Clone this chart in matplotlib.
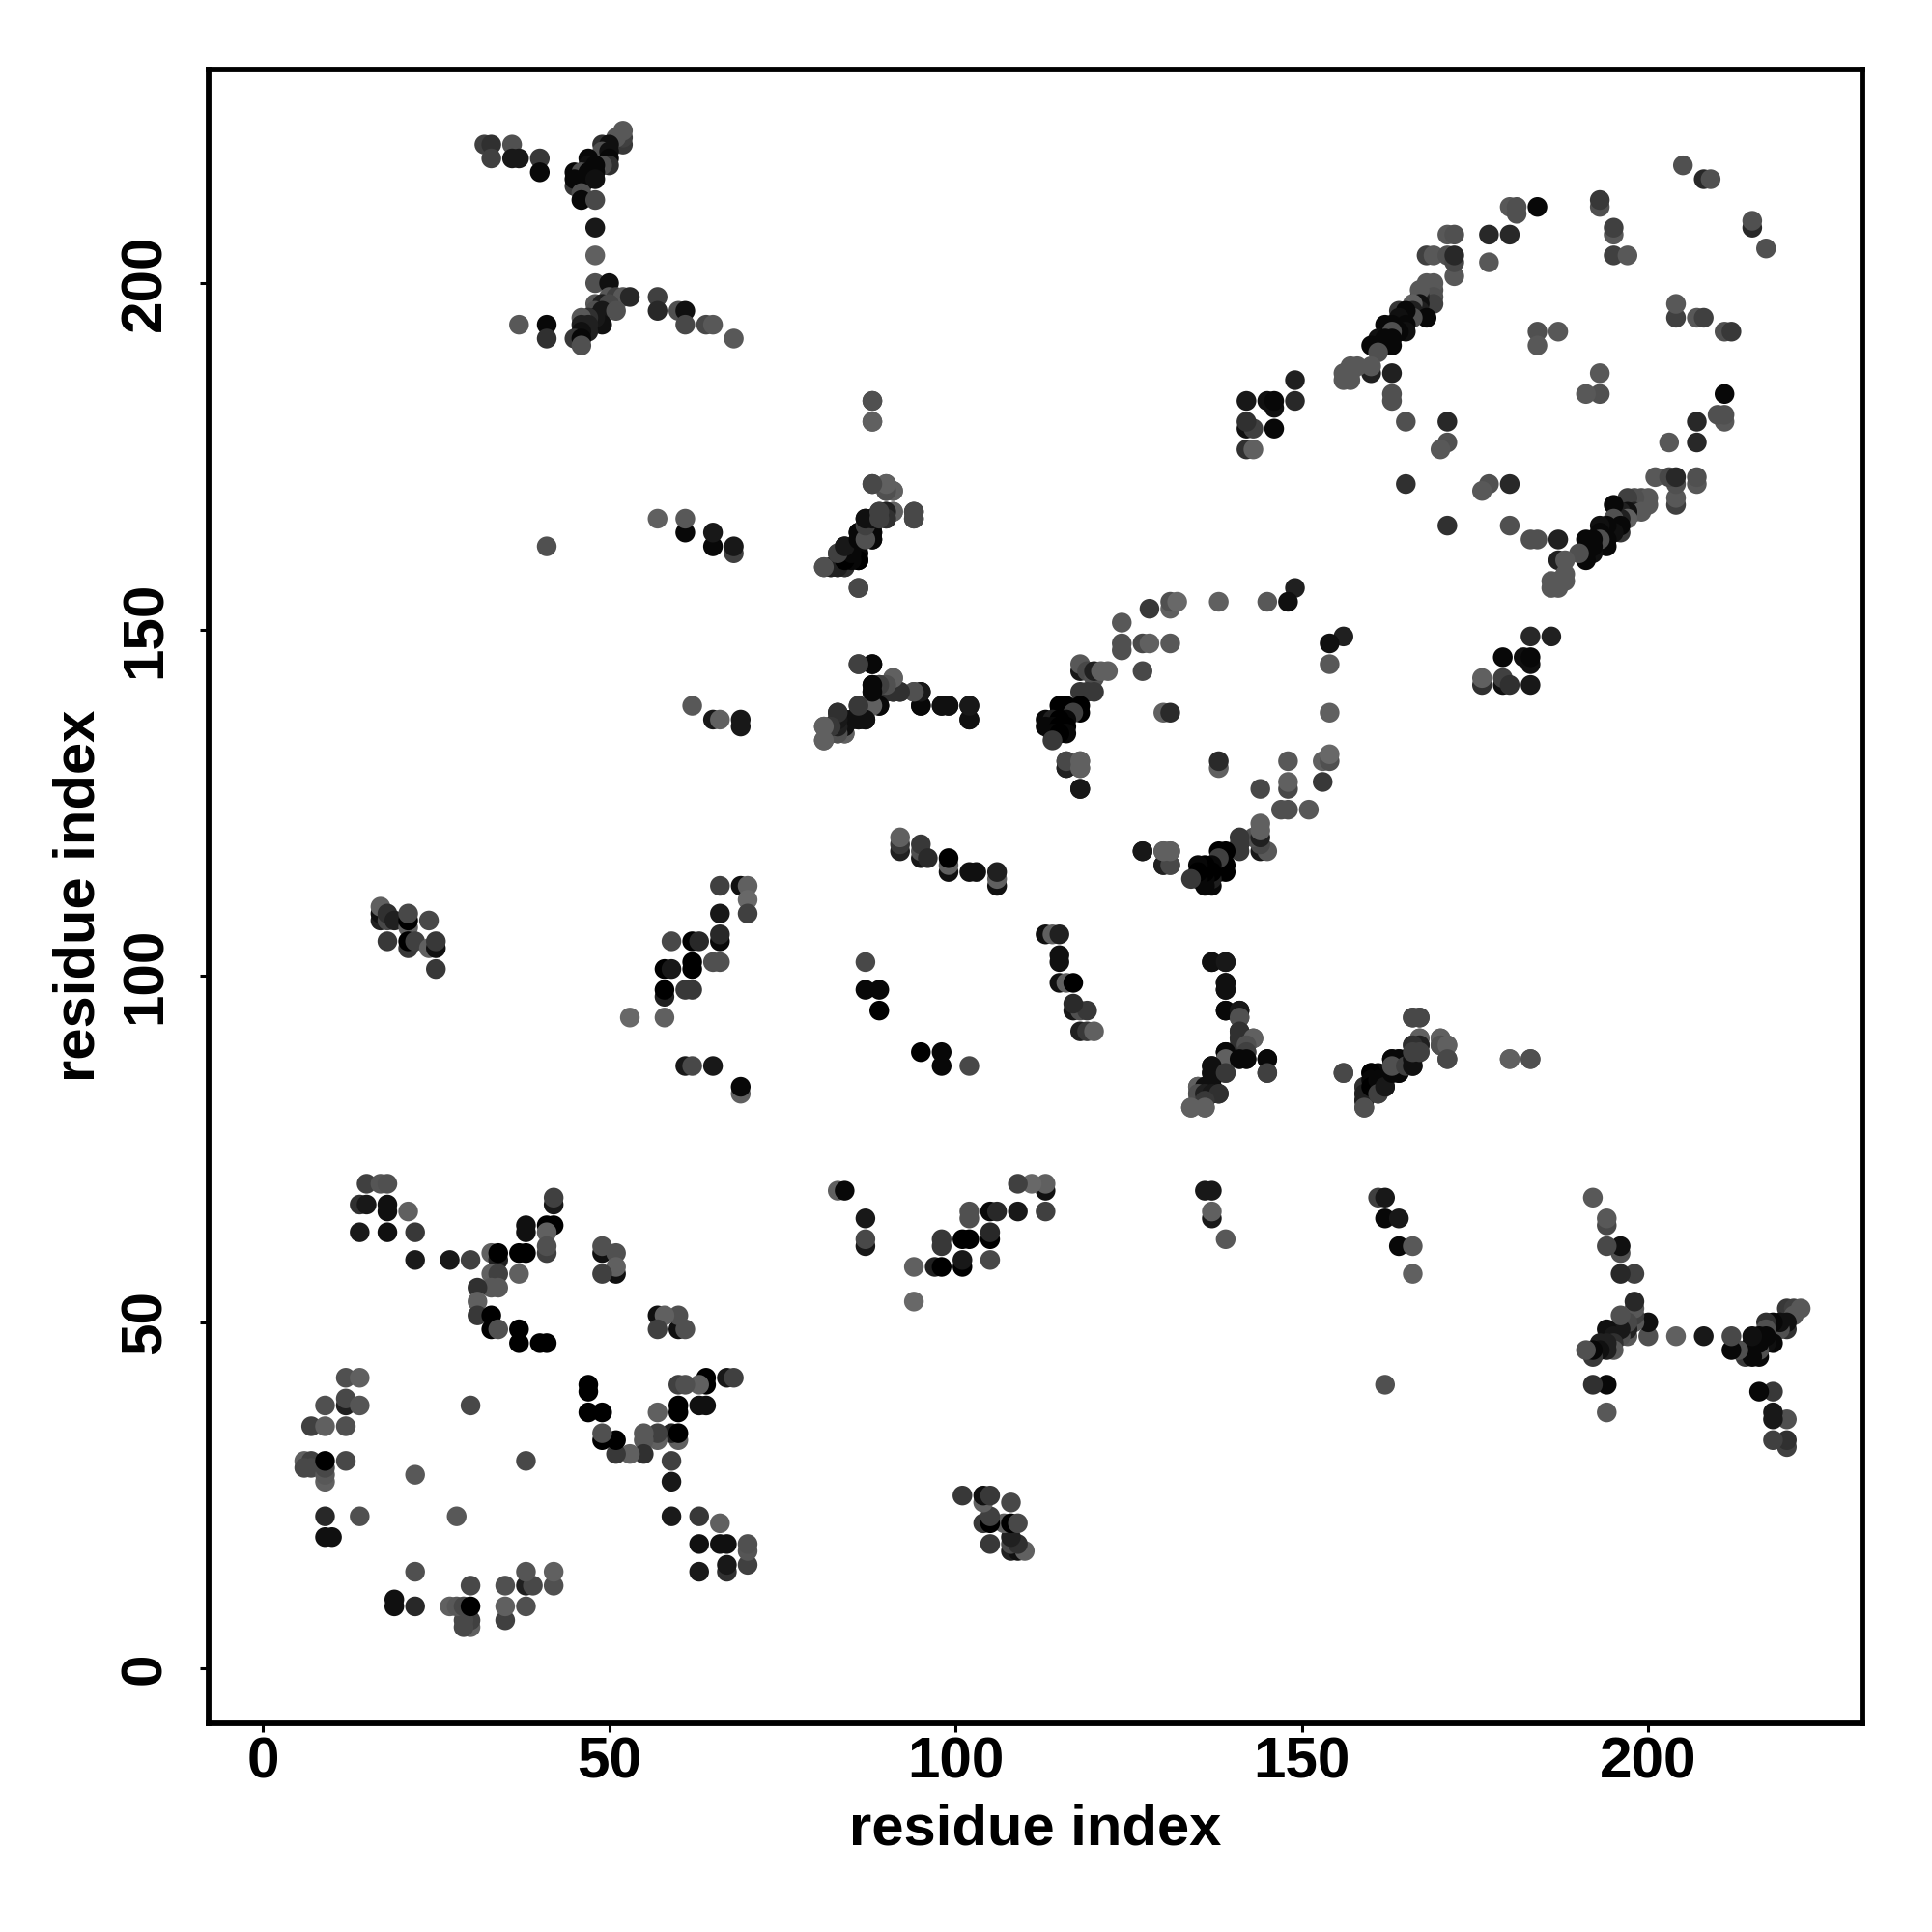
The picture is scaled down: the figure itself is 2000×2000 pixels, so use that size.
import matplotlib
matplotlib.use('Agg')
import matplotlib.pyplot as plt

# contacts as (residue i, residue j, grey level 0-255), the map is symmetric
local_a = [(15,70,64),(17,70,85),(18,70,80),(14,67,48),(15,67,24),(18,67,16),(18,66,16),(21,66,96),
           (14,63,26),(18,63,16),(22,63,56),(22,59,26),(27,59,24),(30,59,64),(33,60,96),(34,59,32),
           (34,60,0),(37,60,0),(38,60,0),(38,64,16),(38,63,16),(41,64,0),(42,64,0),(42,67,24),(42,68,64),
           (41,63,96),(41,60,64),(41,61,80),(37,57,96),(33,57,96),(34,57,64),(33,55,88),(34,55,88),
           (31,55,48),(31,53,96),(31,51,56),(33,51,0),(33,49,0),(34,49,80),(37,49,0),(37,47,0),
           (40,47,0),(41,47,0),(49,60,16),(49,61,80),(51,60,80),(51,57,16),(51,58,96),(49,57,64)]
local_b = [(12,42,80),(14,42,96),(12,38,32),(12,39,72),(14,38,85),(9,38,80),(7,35,64),(9,35,96),(12,35,80),
           (6,30,96),(7,30,64),(6,29,72),(7,29,72),(9,27,96),(9,28,88),(9,29,72),(9,30,0),(12,30,72),
           (30,38,72),(22,28,88),(9,22,40),(14,22,80),(9,19,16),(10,19,16)]
strand_a = [(17,108,32),(17,109,16),(17,110,96),(18,108,72),(18,109,48),(19,108,32),(18,105,56),(21,107,96),
            (21,108,0),(21,109,72),(24,108,72),(21,104,56),(21,105,0),(22,105,64),(24,104,96),(25,104,16),
            (25,105,56),(25,101,56)]
strand_b = [(66,113,64),(69,113,16),(70,113,96),(70,111,104),(70,109,64),(66,109,24),(66,105,8),(66,106,40),
            (59,105,72),(62,105,0),(63,105,40),(62,101,0),(62,102,0),(58,101,0),(59,101,24),(65,102,80),
            (66,102,80),(58,97,32),(58,98,0),(61,98,56),(62,98,56),(53,94,104),(58,94,96),(61,87,24),
            (62,87,72),(65,87,24),(69,83,96),(69,84,8)]
strand_c = [(92,118,32),(92,119,56),(92,120,96),(95,117,24),(95,118,80),(95,119,56),(96,117,42),(99,115,16),
            (99,116,96),(99,117,0),(102,115,16),(103,115,16),(106,113,16),(106,114,96),(106,115,32),
            (87,102,72),(87,98,8),(89,98,8),(89,95,0)]
ring = [(149,156,32),(148,154,16),(145,154,88),(138,154,96),(131,153,96),(131,154,80),(132,154,104),(128,153,56),
        (124,151,88),(124,147,80),(124,148,80),(127,148,72),(128,148,96),(131,148,88),(127,144,72),
        (118,144,24),(118,145,88),(119,144,72),(120,143,80),(120,144,32),(121,144,96),(122,144,96),
        (118,141,56),(119,141,56),(120,141,56),(115,139,0),(116,139,0),(118,139,0),(118,138,0),(115,138,0),
        (117,138,64),(113,137,8),(114,137,32),(116,137,8),(115,137,0),(113,136,8),(114,136,8),(115,136,0),
        (116,136,0),(116,135,8),(114,135,8),(115,135,0),(114,134,56),(116,130,32),(116,131,72),(118,130,80),
        (118,131,96),(118,127,24),(130,138,96),(131,138,42),(130,116,32),(131,116,72),(130,118,96),
        (131,118,96),(127,118,24)]
mid_a = [(88,183,72),(88,180,96),(88,171,72),(90,170,88),(90,171,96),(91,170,96),(89,167,72),(90,166,56),
         (90,167,24),(91,167,96),(94,166,72),(94,167,48),(87,166,56),(88,166,16),(88,165,16),(87,165,64),
         (87,164,96),(87,163,80),(86,164,8),(88,164,8),(86,163,8),(88,163,16),(86,161,8),(86,160,8),
         (83,161,80),(84,161,24),(84,162,24),(84,160,16),(81,159,88),(82,159,48),(83,159,64),(84,159,64),
         (86,156,72),(57,166,96),(61,164,8),(61,166,88),(65,162,8),(65,164,24),(68,161,64),(68,162,24),(41,162,80)]
mid_b = [(86,145,56),(88,145,8),(91,143,88),(88,142,16),(89,142,56),(90,142,48),(88,141,8),(89,141,8),(91,141,32),
         (92,141,32),(94,141,80),(95,141,16),(88,139,96),(89,139,8),(95,139,8),(98,139,8),(99,139,8),
         (102,139,24),(102,137,8),(86,139,64),(86,137,8),(87,137,8),(83,138,48),(84,137,16),(83,137,24),
         (85,137,8),(84,136,8),(83,136,32),(82,136,64),(81,136,96),(84,135,64),(82,135,88),(83,135,80),
         (81,134,96),(62,139,88),(65,137,24),(66,137,96),(69,137,24),(69,136,24)]
top_a = [(205,217,80),(208,215,40),(209,215,80),(193,211,80),(193,212,56),(195,207,88),(195,208,64),(195,204,64),
         (197,204,88),(184,211,8),(180,211,88),(181,210,80),(181,211,80),(177,207,40),(180,207,40),(177,203,88),
         (171,207,88),(172,207,80),(168,204,64),(169,204,88),(171,204,80),(172,201,88),(172,203,72),(172,204,40),
         (184,193,80),(184,191,88),(187,193,88),(163,183,80),(163,184,80),(165,180,80),(171,180,40),(171,177,80),
         (170,176,88),(149,186,32),(149,183,40),(165,171,48)]
top_b = [(168,199,80),(169,199,80),(168,200,88),(169,200,88),(169,198,80),(169,197,64),(167,198,32),(167,199,88),
         (167,197,16),(167,196,32),(166,197,96),(166,196,32),(168,195,8),(166,195,80),(164,196,56),(165,196,8),
         (164,195,16),(165,194,8),(165,193,16),(164,193,8),(162,194,8),(163,194,8),(163,193,80),(163,192,8),
         (161,192,16),(162,192,8),(160,191,8),(161,191,8),(162,191,8),(163,191,8),(161,190,80),(160,187,32),
         (160,188,88),(163,187,32),(158,188,88),(157,188,88),(156,187,88),(157,187,88),(156,186,88),(157,186,88)]
top_c = [(145,183,16),(146,179,8),(146,182,16),(146,183,8),(142,176,48),(143,176,96),(142,179,16),(143,179,64),
         (142,180,48),(142,183,24)]
tail_a = [(32,220,64),(33,220,48),(36,220,80),(33,218,64),(36,218,24),(37,218,24),(40,218,56),(40,216,8),
          (52,220,56),(52,221,64),(52,222,88),(51,221,88),(49,220,48),(50,220,16),(49,219,80),(50,219,16),
          (50,218,8),(50,217,48),(49,217,80),(47,218,8),(47,217,16),(48,217,8),(45,216,8),(46,216,80),
          (47,216,8),(48,216,8),(45,214,56),(46,214,56),(45,215,8),(47,215,8),(48,215,16),(46,213,80),
          (46,212,8),(48,212,72),(48,208,24),(48,204,96),(48,200,80),(50,200,16)]
tail_b = [(50,198,88),(51,198,64),(52,198,88),(53,198,40),(48,197,88),(49,197,32),(50,197,72),(48,196,80),
          (49,196,24),(51,196,80),(49,194,16),(48,195,24),(47,195,48),(46,195,88),(47,194,32),(46,194,32),
          (47,193,32),(46,193,16),(45,192,56),(46,192,8),(46,191,80),(37,194,88),(41,194,8),(41,192,48),
          (57,198,64),(57,196,40),(60,196,80),(61,196,16),(61,194,72),(64,194,72),(65,194,88),(68,192,88)]
tail_c = [(156,86,72),(159,84,48),(159,83,32),(159,82,32),(159,81,80),(160,86,0),(160,85,8),
          (160,84,0),(161,85,8),(161,83,64),(162,84,24),(163,88,8),(164,88,8),(163,86,8),(164,86,8),(163,87,80),
          (165,87,64),(166,87,16),(166,88,16),(166,94,72),(167,94,72),(167,91,96),(167,90,32),(166,90,48),
          (167,89,64),(166,89,64),(170,91,96),(170,90,80),(171,90,96),(171,88,72),(180,88,96),(183,88,80)]
center = [(137,102,16),(139,102,24),(139,99,16),(139,98,16),(139,95,8),(141,95,24),(141,94,80),(141,92,48),
          (141,91,48),(143,91,96),(141,90,48),(142,90,80),(142,89,64),(139,89,8),(139,88,96),(141,88,8),
          (142,88,8),(145,88,8),(145,86,64),(137,87,16),(137,86,16),(139,86,56),(135,84,96),(136,84,16),
          (137,84,16),(135,83,80),(136,83,32),(137,83,24),(138,83,48),(136,82,56),(134,81,96),(136,81,96)]

contact_sets = [local_a, local_b, strand_a, strand_b, strand_c, ring, mid_a, mid_b,
                top_a, top_b, top_c, tail_a, tail_b, tail_c, center]
ticks = [0, 50, 100, 150, 200]

plt.rcParams['font.family'] = ['Liberation Sans', 'DejaVu Sans']
fig = plt.figure(figsize=(10, 10), dpi=200)
ax = fig.add_axes([0.10785, 0.10815, 0.8559, 0.8559])

xs = []
ys = []
cols = []
for group in contact_sets:
    for i, j, g in group:
        for a, b in ((i, j), (j, i)):
            xs.append(a)
            ys.append(b)
            cols.append((g / 255, g / 255, g / 255))

ax.scatter(xs, ys, s=54, c=cols, linewidths=0)

ax.set_xlim(-7.84, 230.84)
ax.set_ylim(-7.84, 230.84)
ax.set_xticks(ticks)
ax.set_yticks(ticks)
ax.tick_params(length=3.4, width=1.1, labelsize=21.7)
ax.tick_params(axis='x', pad=1.5)
ax.tick_params(axis='y', pad=10)
for lab in ax.get_xticklabels():
    lab.set_fontweight('bold')
for lab in ax.get_yticklabels():
    lab.set_fontweight('bold')
    lab.set_rotation(90)
    lab.set_verticalalignment('center')
for s in ax.spines.values():
    s.set_linewidth(2.1)
ax.set_xlabel('residue index', fontsize=21.5, fontweight='bold', labelpad=5)
ax.set_ylabel('residue index', fontsize=21.5, fontweight='bold', labelpad=5)

fig.savefig('out.png', dpi=200)
